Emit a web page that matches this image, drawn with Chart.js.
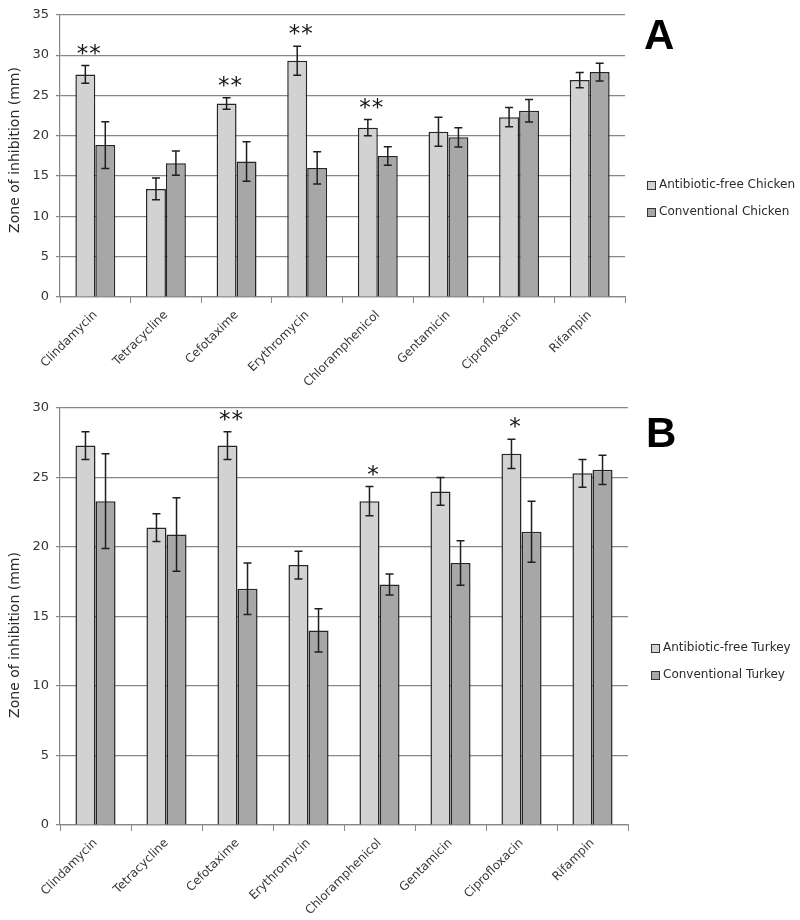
<!DOCTYPE html>
<html>
<head>
<meta charset="utf-8">
<script src="https://cdn.jsdelivr.net/npm/chart.js@4"></script>
<style>
  html, body { margin: 0; padding: 0; background: #fff; }
  .panel { position: absolute; left: 0; width: 800px; }
  #wrapA { top: 0; height: 390px; }
  #wrapB { top: 390px; height: 530px; }
</style>
</head>
<body>
<div class="panel" id="wrapA"><canvas id="chartA" width="800" height="390"></canvas></div>
<div class="panel" id="wrapB"><canvas id="chartB" width="800" height="530"></canvas></div>
<script>
const drugs = ["Clindamycin", "Tetracycline", "Cefotaxime", "Erythromycin",
  "Chloramphenicol", "Gentamicin", "Ciprofloxacin", "Rifampin"];

// panel A - chicken
const chickenFree = [27.6, 13.4, 24.0, 29.3, 21.0, 20.5, 22.3, 26.9];
const chickenFreeErr = [1.1, 1.35, 0.7, 1.8, 1.0, 1.8, 1.2, 0.95];
const chickenConv = [18.85, 16.6, 16.8, 16.0, 17.5, 19.8, 23.1, 27.9];
const chickenConvErr = [2.9, 1.5, 2.45, 2.0, 1.15, 1.2, 1.4, 1.1];
const chickenSig = ["**", "", "**", "**", "**", "", "", ""];

// panel B - turkey
const turkeyFree = [27.3, 21.4, 27.3, 18.7, 23.3, 24.0, 26.7, 25.3];
const turkeyFreeErr = [1.0, 1.0, 1.0, 1.0, 1.05, 1.0, 1.05, 1.0];
const turkeyConv = [23.3, 20.9, 17.0, 14.0, 17.3, 18.85, 21.1, 25.55];
const turkeyConvErr = [3.4, 2.65, 1.85, 1.55, 0.75, 1.6, 2.2, 1.05];
const turkeySig = ["", "", "**", "", "*", "", "*", ""];

const yMaxA = 35, yMaxB = 30, yStep = 5;

const FONT = "'DejaVu Sans', Verdana, sans-serif";
const GRID = "#878787";
const TEXT = "#363636";

/* error bars, stars, legend, y title and panel letter */
const extras = {
  id: "extras",
  afterDatasetsDraw(chart, args, opts) {
    const { ctx, scales } = chart;
    const y = scales.y;
    ctx.save();
    ctx.strokeStyle = "#1e1e1e";
    ctx.lineWidth = 1.5;
    chart.data.datasets.forEach((ds, d) => {
      const meta = chart.getDatasetMeta(d);
      meta.data.forEach((bar, i) => {
        const v = ds.data[i], e = ds.errors[i];
        const top = y.getPixelForValue(v + e);
        const bot = y.getPixelForValue(v - e);
        ctx.beginPath();
        ctx.moveTo(bar.x, top); ctx.lineTo(bar.x, bot);
        ctx.moveTo(bar.x - 4, top); ctx.lineTo(bar.x + 4, top);
        ctx.moveTo(bar.x - 4, bot); ctx.lineTo(bar.x + 4, bot);
        ctx.stroke();
      });
    });

    // significance stars over the antibiotic-free bars
    const ds0 = chart.data.datasets[0];
    const meta0 = chart.getDatasetMeta(0);
    ctx.fillStyle = "#151515";
    ctx.font = "23px " + FONT;
    ctx.letterSpacing = "1px";
    ctx.textAlign = "center";
    ctx.textBaseline = "middle";
    opts.sig.forEach((s, i) => {
      if (!s) return;
      const bar = meta0.data[i];
      const top = y.getPixelForValue(ds0.data[i] + ds0.errors[i]);
      ctx.fillText(s, bar.x + 4, top - 11);
    });
    ctx.restore();
  },
  afterDraw(chart, args, opts) {
    const { ctx } = chart;
    ctx.save();
    // y axis title
    ctx.translate(opts.titleX, opts.titleY);
    ctx.rotate(-Math.PI / 2);
    ctx.font = "14px " + FONT;
    ctx.fillStyle = "#2a2a2a";
    ctx.textAlign = "center";
    ctx.textBaseline = "middle";
    ctx.fillText("Zone of inhibition (mm)", 0, 0);
    ctx.restore();

    ctx.save();
    // panel letter
    ctx.font = "bold 42px 'Liberation Sans', Arial, sans-serif";
    ctx.fillStyle = "#000";
    ctx.textAlign = "left";
    ctx.textBaseline = "alphabetic";
    ctx.fillText(opts.letter, opts.letterX, opts.letterY);

    // legend
    ctx.font = "12px " + FONT;
    ctx.textBaseline = "middle";
    chart.data.datasets.forEach((ds, d) => {
      const cy = opts.legendY + d * opts.legendGap;
      ctx.fillStyle = ds.backgroundColor;
      ctx.fillRect(opts.legendX, cy - 4, 8, 8);
      ctx.strokeStyle = "#333";
      ctx.lineWidth = 1;
      ctx.strokeRect(opts.legendX + 0.5, cy - 3.5, 8, 8);
      ctx.fillStyle = "#2a2a2a";
      ctx.fillText(ds.label, opts.legendX + 12, cy);
    });
    ctx.restore();
  }
};

function makeChart(id, cfg) {
  return new Chart(document.getElementById(id), {
    type: "bar",
    data: {
      labels: drugs,
      datasets: [
        {
          label: cfg.names[0],
          data: cfg.free,
          errors: cfg.freeErr,
          backgroundColor: "#d2d2d2",
          borderColor: "#262626",
          borderWidth: 1.5,
          categoryPercentage: 0.565,
          barPercentage: 1.0
        },
        {
          label: cfg.names[1],
          data: cfg.conv,
          errors: cfg.convErr,
          backgroundColor: "#a7a7a7",
          borderColor: "#262626",
          borderWidth: 1.5,
          categoryPercentage: 0.565,
          barPercentage: 1.0
        }
      ]
    },
    options: {
      responsive: false,
      animation: false,
      events: [],
      layout: { padding: { top: cfg.padTop, right: cfg.padRight, left: 0, bottom: 0 } },
      plugins: {
        legend: { display: false },
        tooltip: { enabled: false },
        extras: cfg.extras
      },
      scales: {
        y: {
          min: 0,
          max: cfg.yMax,
          ticks: {
            stepSize: yStep,
            color: TEXT,
            font: { family: FONT, size: 13 },
            padding: 7
          },
          grid: { color: GRID, lineWidth: 1.2, tickLength: 4 },
          border: { color: GRID, width: 1.2 },
          afterFit(s) { s.width = 60; }
        },
        x: {
          grid: {
            offset: true,
            drawOnChartArea: false,
            color: GRID,
            tickLength: 6
          },
          border: { color: GRID, width: 1.2 },
          ticks: {
            minRotation: 45,
            maxRotation: 45,
            color: TEXT,
            font: { family: FONT, size: 12 },
            padding: 5
          },
          afterFit(s) { s.height = cfg.xHeight; }
        }
      }
    },
    plugins: [extras]
  });
}

makeChart("chartA", {
  names: ["Antibiotic-free Chicken", "Conventional Chicken"],
  free: chickenFree, freeErr: chickenFreeErr,
  conv: chickenConv, convErr: chickenConvErr,
  yMax: yMaxA,
  padTop: 8, padRight: 175, xHeight: 93,
  extras: {
    sig: chickenSig,
    letter: "A", letterX: 644, letterY: 49,
    legendX: 647, legendY: 185, legendGap: 27,
    titleX: 15, titleY: 150
  }
});

makeChart("chartB", {
  names: ["Antibiotic-free Turkey", "Conventional Turkey"],
  free: turkeyFree, freeErr: turkeyFreeErr,
  conv: turkeyConv, convErr: turkeyConvErr,
  yMax: yMaxB,
  padTop: 18, padRight: 172, xHeight: 95,
  extras: {
    sig: turkeySig,
    letter: "B", letterX: 646, letterY: 57,
    legendX: 651, legendY: 258, legendGap: 27,
    titleX: 15, titleY: 245
  }
});
</script>
</body>
</html>
